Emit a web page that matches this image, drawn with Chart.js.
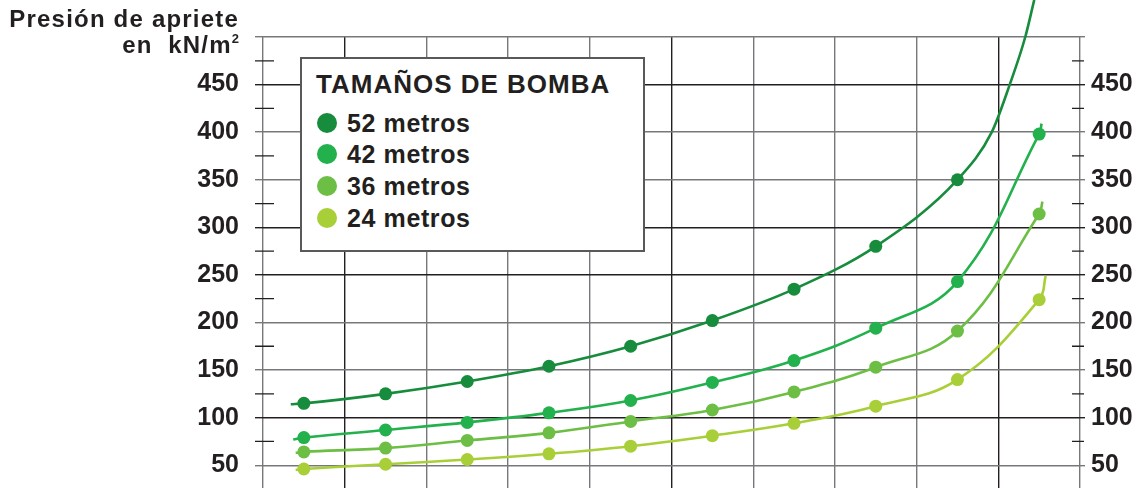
<!DOCTYPE html>
<html lang="es">
<head>
<meta charset="UTF-8">
<title>Presión de apriete</title>
<style>
  body { margin: 0; background: #fff; font-family: "Liberation Sans", Arial, sans-serif; color: #231f20; }
  #marco { position: relative; width: 1139px; height: 488px; overflow: hidden; }
  #grafico { position: absolute; left: 0; top: 0; }
  #titulo { position: absolute; right: 900px; top: 7px; font-weight: bold; font-size: 24px; line-height: 24px; letter-spacing: 1.2px; text-align: right; white-space: nowrap; }
  #titulo div { height: 26px; }
  #titulo sup { font-size: 13px; vertical-align: 10px; line-height: 0; letter-spacing: 0; }
  #leyenda { position: absolute; left: 300px; top: 57px; width: 341px; height: 191px; border: 2px solid #58595b; background: #fff; font-weight: bold; }
  #leyenda .tit { position: absolute; left: 14px; top: 12px; font-size: 26px; line-height: 26px; letter-spacing: 1px; white-space: nowrap; }
  #leyenda .fila { position: absolute; left: 45px; font-size: 25px; line-height: 25px; letter-spacing: 0.6px; white-space: nowrap; }
  #leyenda .punto { position: absolute; left: -30px; top: 2px; width: 20px; height: 20px; border-radius: 50%; }
</style>
</head>
<body>
<div id="marco">
  <canvas id="grafico" width="1139" height="520"></canvas>
  <div id="titulo">
    <div>Presión de apriete</div>
    <div>en&nbsp; kN/m<sup>2</sup></div>
  </div>
  <div id="leyenda">
    <div class="tit">TAMAÑOS DE BOMBA</div>
  </div>
</div>
<script src="https://cdn.jsdelivr.net/npm/chart.js"></script>
<script>
// posiciones de los puntos (centro de cada celda) y valores en kN/m2
const posiciones = [0.5, 1.5, 2.5, 3.5, 4.5, 5.5, 6.5, 7.5, 8.5, 9.5];
const bomba52 = [115, 125, 138, 154, 175, 202, 235, 280, 350, null];
const bomba42 = [79, 87, 95, 105, 118, 137, 160, 194, 243, 398];
const bomba36 = [64, 68, 76, 84, 96, 108, 127, 153, 191, 314];
const bomba24 = [46, 51, 56, 62, 70, 81, 94, 112, 140, 224];

// tramos de curva fuera de los puntos [x, valor]
const inicio52 = [[0.34, 114]];
const fin52 = [[8.92, 400], [9.14, 450], [9.33, 500], [9.44, 539]];
const inicio42 = [[0.37, 77]];
const fin42 = [[9.53, 409]];
const inicio36 = [[0.4, 63]];
const fin36 = [[9.54, 327]];
const inicio24 = [[0.4, 45]];
const fin24 = [[9.58, 249]];

const etiquetas = ['52 metros', '42 metros', '36 metros', '24 metros'];
const colores = ['#178c3c', '#22b14c', '#6dbe45', '#a8cf38'];

const series = [
  { valores: bomba52, inicio: inicio52, fin: fin52, modo: 'monotone' },
  { valores: bomba42, inicio: inicio42, fin: fin42, modo: 'default' },
  { valores: bomba36, inicio: inicio36, fin: fin36, modo: 'default' },
  { valores: bomba24, inicio: inicio24, fin: fin24, modo: 'default' }
];

const negro = '#231f20';
const gris = '#77787b';

function puntos(valores) {
  let res = [];
  for (let i = 0; i < valores.length; i++) {
    if (valores[i] !== null) res.push({ x: posiciones[i], y: valores[i] });
  }
  return res;
}

let datasets = [];
series.forEach(function (s, i) {
  let curva = s.inicio.map(p => ({ x: p[0], y: p[1] }))
    .concat(puntos(s.valores))
    .concat(s.fin.map(p => ({ x: p[0], y: p[1] })));
  datasets.push({
    label: etiquetas[i] + ' curva',
    data: curva,
    showLine: true,
    borderColor: colores[i],
    borderWidth: 2.6,
    pointRadius: 0,
    pointHoverRadius: 0,
    tension: 0.4,
    cubicInterpolationMode: s.modo,
    clip: false,
    order: 2
  });
  datasets.push({
    label: etiquetas[i],
    data: puntos(s.valores),
    showLine: false,
    pointRadius: 6.5,
    pointHoverRadius: 6.5,
    pointBackgroundColor: colores[i],
    pointBorderWidth: 0,
    order: 1
  });
});

// leyenda en html
const leyenda = document.getElementById('leyenda');
etiquetas.forEach(function (t, i) {
  let fila = document.createElement('div');
  fila.className = 'fila';
  fila.style.top = (51.5 + i * 31.7) + 'px';
  fila.innerHTML = '<span class="punto" style="background:' + colores[i] + '"></span>' + t;
  leyenda.appendChild(fila);
});

const oscurasX = [1, 5, 9];
const oscurasY = [450, 300, 250, 100];

function colorY(ctx) {
  let v = ctx.tick.value;
  if (v % 50 !== 0) return 'rgba(0,0,0,0)';
  return oscurasY.includes(v) ? negro : gris;
}

// marcas menores (cada 25) que cruzan los ejes
const marcasMenores = {
  id: 'marcasMenores',
  afterDraw(chart) {
    const ctx = chart.ctx;
    const area = chart.chartArea;
    ctx.save();
    ctx.strokeStyle = negro;
    ctx.lineWidth = 1.3;
    chart.scales.y.ticks.forEach(function (t) {
      if (t.value % 50 === 0 || t.value <= 25) return;
      let y = chart.scales.y.getPixelForValue(t.value);
      ctx.beginPath();
      ctx.moveTo(area.left - 8, y);
      ctx.lineTo(area.left + 11, y);
      ctx.moveTo(area.right - 8, y);
      ctx.lineTo(area.right + 4, y);
      ctx.stroke();
    });
    ctx.restore();
  }
};

const fuenteEje = { family: '"Liberation Sans", Arial, sans-serif', size: 25, weight: 'bold' };

function etiquetaY(v) {
  return (v % 50 === 0 && v >= 50 && v <= 450) ? v : '';
}

new Chart(document.getElementById('grafico'), {
  type: 'scatter',
  data: { datasets: datasets },
  options: {
    responsive: false,
    animation: false,
    layout: { padding: { top: 37, left: 0, right: 0, bottom: 0 } },
    scales: {
      x: {
        type: 'linear',
        min: 0,
        max: 10,
        ticks: { stepSize: 1, display: false },
        border: { display: false },
        grid: {
          drawTicks: false,
          lineWidth: 1.4,
          color: ctx => oscurasX.includes(ctx.tick.value) ? negro : gris
        },
        afterFit: s => { s.height = 0; }
      },
      y: {
        position: 'left',
        min: 25,
        max: 500,
        ticks: { stepSize: 25, padding: 16, color: negro, font: fuenteEje, callback: etiquetaY, autoSkip: false },
        border: { display: false },
        grid: { lineWidth: 1.4, tickLength: 8, color: colorY, tickColor: colorY },
        afterFit: s => { s.width = 263; }
      },
      y2: {
        position: 'right',
        min: 25,
        max: 500,
        ticks: { stepSize: 25, padding: 6, color: negro, font: fuenteEje, callback: etiquetaY, autoSkip: false },
        border: { display: false },
        grid: { drawOnChartArea: false, lineWidth: 1.4, tickLength: 5, color: colorY, tickColor: colorY },
        afterFit: s => { s.width = 59; }
      }
    },
    plugins: {
      legend: { display: false },
      tooltip: { enabled: false }
    }
  },
  plugins: [marcasMenores]
});
</script>
</body>
</html>
